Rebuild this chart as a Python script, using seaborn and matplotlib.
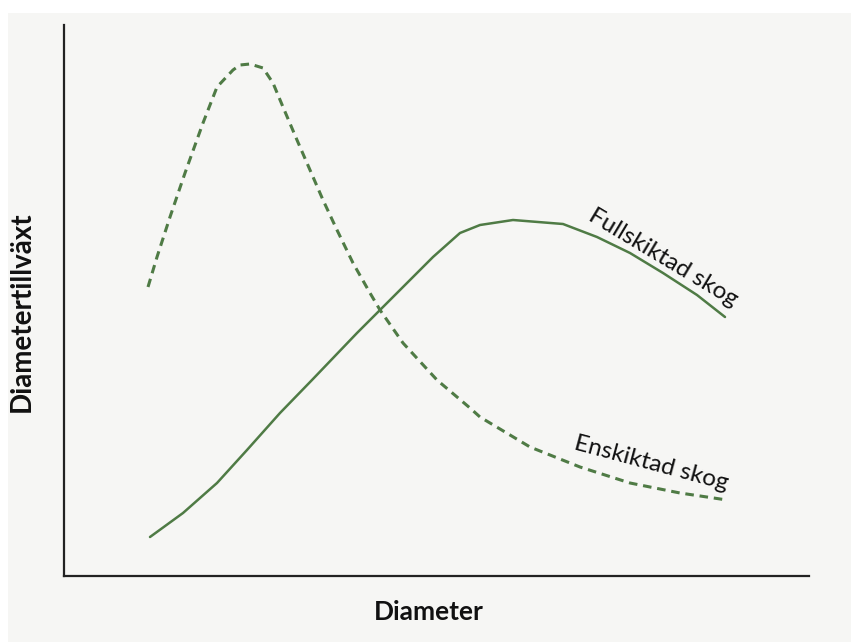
import pandas as pd
import matplotlib.pyplot as plt
import matplotlib.patches as mpatches
import seaborn as sns

# Values (arbitrary units, no tick scale shown)
full_x = [86, 119, 153, 183, 216, 248, 293, 316, 369, 396, 416, 449, 499, 533, 566, 599, 633, 661]
full_y = [39, 63, 93, 126, 163, 196, 243, 266, 319, 343, 351, 356, 352, 339, 323, 303, 281, 259]

ens_x = [84, 93, 106, 121, 139, 153, 169, 176, 186, 199, 209, 219, 233, 246, 259, 273, 289,
         306, 316, 339, 373, 406, 416, 466, 516, 566, 616, 663]
ens_y = [289, 319, 359, 403, 453, 489, 506, 511, 512, 508, 493, 469, 436, 406, 376, 346, 313,
         283, 266, 233, 196, 168, 159, 129, 109, 93, 83, 76]

label_full = "Fullskiktad skog"
label_ens = "Enskiktad skog"
x_label = "Diameter"
y_label = "Diametertillväxt"

green = "#4f7b45"
panel = "#f6f6f4"

df = pd.concat([
    pd.DataFrame({"x": full_x, "y": full_y, "serie": label_full}),
    pd.DataFrame({"x": ens_x, "y": ens_y, "serie": label_ens}),
])

sns.set_style("white")
plt.rcParams["font.family"] = ["Lato", "DejaVu Sans"]

fig = plt.figure(figsize=(8.51, 6.42), dpi=100, facecolor="white")
fig.patches.append(mpatches.Rectangle((8 / 851, 0), 1, 1 - 13 / 642,
                                      transform=fig.transFigure,
                                      facecolor=panel, edgecolor="none", zorder=-10))
ax = fig.add_axes([64 / 851, 66 / 642, 745 / 851, 551 / 642])
ax.set_facecolor(panel)

sns.lineplot(data=df[df.serie == label_full], x="x", y="y", ax=ax, color=green,
             linewidth=1.8, estimator=None, sort=False)
sns.lineplot(data=df[df.serie == label_ens], x="x", y="y", ax=ax, color=green,
             linewidth=2.2, estimator=None, sort=False)
ax.lines[1].set_linestyle((0, (2.8, 1.9)))
for ln in ax.lines:
    ln.set_solid_joinstyle("round")
    ln.set_dash_joinstyle("round")

ax.set_xlim(0, 745)
ax.set_ylim(0, 551)
ax.set_xticks([])
ax.set_yticks([])
sns.despine(ax=ax)
for s in ["left", "bottom"]:
    ax.spines[s].set_color("#222222")
    ax.spines[s].set_linewidth(1.6)

ax.text(599, 318, label_full, rotation=-31, ha="center", va="center",
        rotation_mode="anchor", fontsize=17.5, color="#111111")
ax.text(587, 113, label_ens, rotation=-15, ha="center", va="center",
        rotation_mode="anchor", fontsize=17.5, color="#111111")

ax.set_xlabel(x_label, fontsize=19, fontweight="bold", labelpad=17, color="#111111")
ax.set_ylabel(y_label, fontsize=20, fontweight="bold", labelpad=21, color="#111111")
ax.xaxis.label.set_x(0.49)
ax.yaxis.label.set_y(0.48)

fig.savefig("out.png", dpi=100, facecolor="white")
